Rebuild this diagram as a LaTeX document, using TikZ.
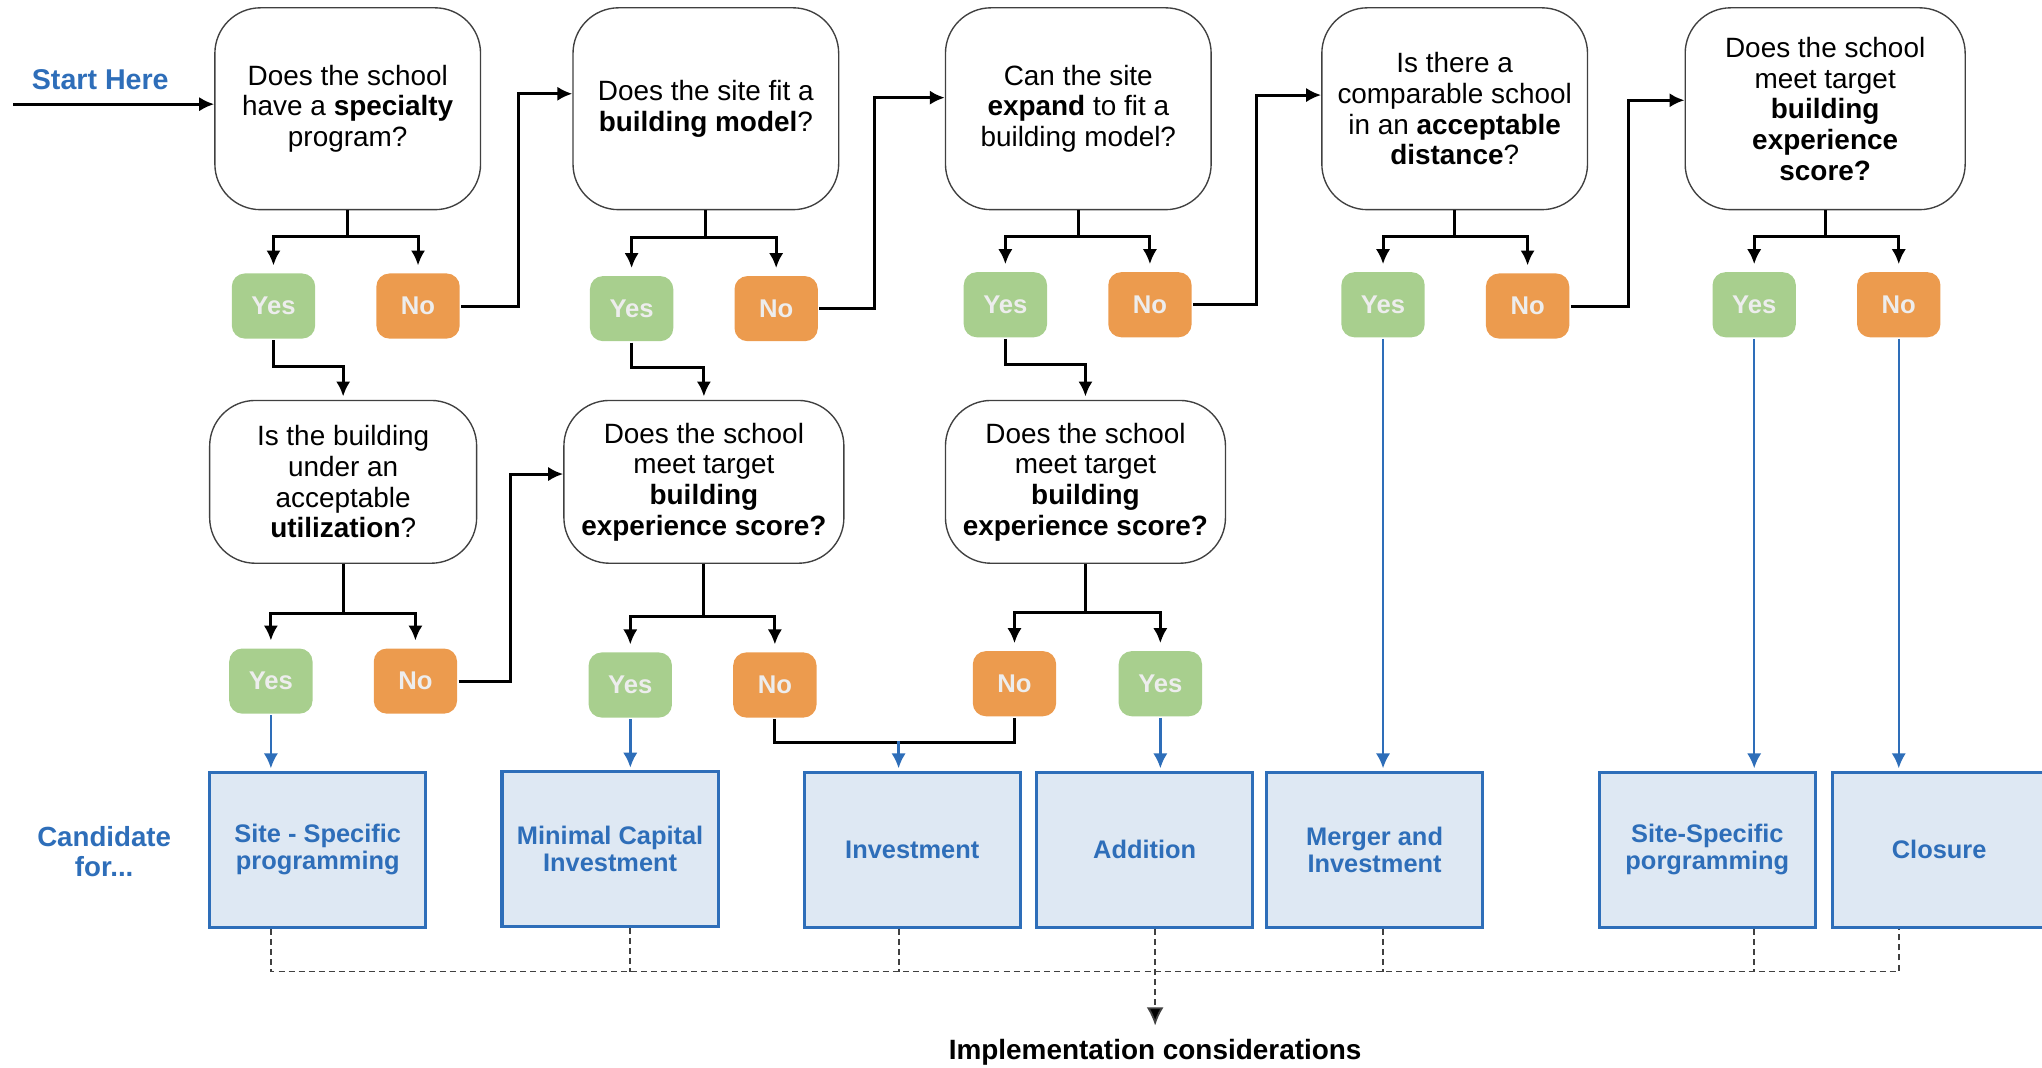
\documentclass[tikz,border=0pt]{standalone}
\usepackage{fontspec}
\setmainfont{Liberation Sans}
\usetikzlibrary{arrows.meta}

\definecolor{yesgreen}{RGB}{168,207,142}
\definecolor{noorange}{RGB}{236,155,78}
\definecolor{candblue}{RGB}{46,110,185}
\definecolor{candfill}{RGB}{222,232,243}

\begin{document}
\begin{tikzpicture}[x=0.2mm,y=-0.2mm,>={Latex[length=2.3mm,width=2.2mm]},line width=1.3pt]

        \tikzstyle{question}=[draw=black!75, line width=0.6pt, rounded corners=0.7cm, align=center, minimum width=4.08cm, minimum height=3.1cm, font=\fontsize{12.2}{13.4}\selectfont]
        \tikzstyle{yesbox}=[fill=yesgreen, rounded corners=0.2cm, minimum width=1.28cm, minimum height=1cm, text=white!93!black, font=\fontsize{11.2}{12}\selectfont\bfseries]
        \tikzstyle{nobox}=[yesbox, fill=noorange]
        \tikzstyle{candbox}=[draw=candblue, fill=candfill, line width=1.4pt, align=center, minimum width=3.32cm, minimum height=2.38cm, text=candblue, font=\fontsize{11.1}{12}\selectfont\bfseries]
        \tikzstyle{bluearrow}=[->, draw=candblue, line width=1.1pt, shorten >=1pt]
        \tikzstyle{dashline}=[draw=black!75, line width=0.8pt, dash pattern=on 2.6pt off 1.8pt]

        \useasboundingbox (0,0) rectangle (1568,820);

        % questions, top row
        \node (q1) [question] at (267,83.5) {Does the school\\have a \textbf{specialty}\\program?};
        \node (q2) [question] at (542,83.5) {Does the site fit a\\\textbf{building model}?};
        \node (q3) [question] at (828,83.5) {Can the site\\\textbf{expand} to fit a\\building model?};
        \node (q4) [question] at (1117,83.5) {Is there a\\comparable school\\in an \textbf{acceptable}\\\textbf{distance}?};
        \node (q5) [question, minimum width=4.3cm] at (1401.5,83.5) {Does the school\\meet target\\\textbf{building}\\\textbf{experience}\\\textbf{score?}};

        % answers, top row
        \node (y1) [yesbox] at (210,235) {Yes};
        \node (n1) [nobox]  at (321,235) {No};
        \node (y2) [yesbox] at (485,237) {Yes};
        \node (n2) [nobox]  at (596,237) {No};
        \node (y3) [yesbox] at (772,234) {Yes};
        \node (n3) [nobox]  at (883,234) {No};
        \node (y4) [yesbox] at (1062,234) {Yes};
        \node (n4) [nobox]  at (1173,235) {No};
        \node (y5) [yesbox] at (1347,234) {Yes};
        \node (n5) [nobox]  at (1458,234) {No};

        % questions, second row
        \node (q6) [question, minimum width=4.1cm, minimum height=2.5cm] at (263.5,370) {Is the building\\under an\\acceptable\\\textbf{utilization}?};
        \node (q7) [question, minimum width=4.3cm, minimum height=2.5cm] at (540.5,370) {Does the school\\meet target\\\textbf{building}\\\textbf{experience score?}};
        \node (q8) [question, minimum width=4.3cm, minimum height=2.5cm] at (833.5,370) {Does the school\\meet target\\\textbf{building}\\\textbf{experience score?}};

        % answers, second row
        \node (y6) [yesbox] at (208,523) {Yes};
        \node (n6) [nobox]  at (319,523) {No};
        \node (y7) [yesbox] at (484,526) {Yes};
        \node (n7) [nobox]  at (595,526) {No};
        \node (n8) [nobox]  at (779,525) {No};
        \node (y8) [yesbox] at (891,525) {Yes};

        % candidates
        \node (c1) [candbox] at (244,652.5) {Site - Specific\\programming};
        \node (c2) [candbox] at (468.5,652) {Minimal Capital\\Investment};
        \node (c3) [candbox] at (700.5,652.5) {Investment};
        \node (c4) [candbox] at (879,652.5) {Addition};
        \node (c5) [candbox] at (1055.5,652.5) {Merger and\\Investment};
        \node (c6) [candbox] at (1311,652.5) {Site-Specific\\porgramming};
        \node (c7) [candbox, minimum width=3.28cm] at (1489,652.5) {Closure};

        \node (start) [text=candblue, font=\fontsize{12.5}{14}\selectfont\bfseries] at (77,61) {Start Here};
        \node (cand) [text=candblue, align=center, font=\fontsize{12.1}{13}\selectfont\bfseries] at (80,654) {Candidate\\for...};
        \node (impl) [font=\fontsize{12.2}{14}\selectfont\bfseries] at (887,808) {Implementation considerations};

        \coordinate (s0) at (10,80);
        \coordinate (m3) at (690,569);
        \coordinate (bus) at (0,746);

        \draw[->] (s0) -- (s0 -| q1.west);

        % splits into yes / no
        \foreach \q/\y/\n/\d in {q1/y1/n1/20, q2/y2/n2/21, q3/y3/n3/20, q4/y4/n4/20, q5/y5/n5/20, q6/y6/n6/38, q7/y7/n7/40, q8/y8/n8/37} {
          \draw[->,shorten >=1mm] (\q.south) -- ++(0,\d) coordinate (j) -| (\y.north);
          \draw[->,shorten >=1mm] (j) -| (\n.north);
        }

        % no -> next question
        \draw[->] (n1.east) -- ++(44,0) |- ([yshift=0.23cm]q2.west);
        \draw[->] (n2.east) -- ++(42,0) |- ([yshift=0.17cm]q3.west);
        \draw[->] (n3.east) -- ++(49,0) |- ([yshift=0.21cm]q4.west);
        \draw[->] (n4.east) -- ++(44,0) |- ([yshift=0.13cm]q5.west);
        \draw[->] (n6.east) -- ++(40,0) |- ([yshift=0.12cm]q7.west);

        % yes -> second row
        \draw[->,shorten >=0.5mm] (y1.south) -- ++(0,20) -| (q6.north);
        \draw[->,shorten >=0.5mm] (y2.south) -- ++(0,19) -| (q7.north);
        \draw[->,shorten >=0.5mm] (y3.south) -- ++(0,20) -| (q8.north);

        % into the candidates
        \draw (n7.south) -- ++(0,18) -| (n8.south);
        \draw[bluearrow] (m3) -- (m3 |- c3.north);
        \foreach \a/\c in {y6/c1, y7/c2, y8/c4, y4/c5, y5/c6, n5/c7}
          \draw[bluearrow] (\a.south) -- (\a.south |- \c.north);

        % implementation
        \draw[dashline] (y6 |- c1.south) -- (y6 |- bus) -- (n5 |- bus) -- (n5 |- c7.south);
        \foreach \a/\c in {y7/c2, m3/c3, y4/c5, y5/c6}
          \draw[dashline] (\a |- \c.south) -- (\a |- bus);
        \draw[dashline,-{Latex[length=2.8mm,width=2.6mm,fill=black]},shorten >=2pt] (impl |- c4.south) -- (impl.north);

\end{tikzpicture}
\end{document}
